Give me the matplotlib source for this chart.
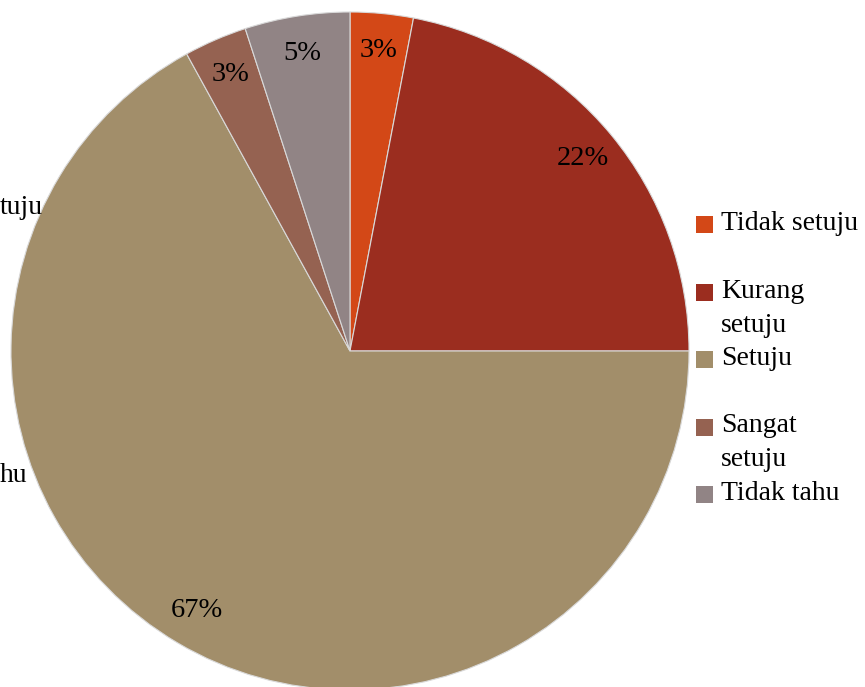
#! /usr/bin/env python3
"""
Pie chart of survey answers with a manual legend on the right
"""

import matplotlib
matplotlib.use("Agg")
import matplotlib.pyplot as plt
from matplotlib.patches import Rectangle

categories = ["Tidak setuju", "Kurang\nsetuju", "Setuju", "Sangat\nsetuju",
              "Tidak tahu"]
values = [3, 22, 67, 3, 5]
colours = ["#d34817", "#9b2d1f", "#a28e6a", "#956251", "#918485"]
# leftover labels of a neighbouring chart, cut off by the left edge
stray_labels = ["tuju", "hu"]


def main():
    plt.rcParams["font.family"] = ["Liberation Serif", "DejaVu Serif"]
    width, height = 865, 687
    fig = plt.figure(figsize=(width / 100, height / 100), dpi=100)
    ax = fig.add_axes([0, 0, 1, 1])
    wedges, texts, autotexts = ax.pie(
        values,
        colors=colours,
        startangle=90,
        counterclock=False,
        center=(350, height - 351),
        radius=339,
        autopct=lambda p: f"{p:.0f}%",
        pctdistance=0.89,
        wedgeprops={"edgecolor": "#d9d9d9", "linewidth": 0.8},
        textprops={"fontsize": 20.5, "color": "black"},
    )
    ax.set_xlim(0, width)
    ax.set_ylim(0, height)
    ax.set_aspect("equal")
    ax.axis("off")

    # legend drawn by hand so wrapped labels align on their first line
    for i, (label, colour) in enumerate(zip(categories, colours)):
        yc = height - (224.5 + 67.5 * i)
        ax.add_patch(Rectangle((696, yc - 8.5), 17, 17, facecolor=colour,
                               edgecolor="none"))
        for j, line in enumerate(label.split("\n")):
            ax.text(721, yc - 34 * j + 1, line, fontsize=20, va="center",
                    ha="left", color="black")

    ax.text(43, height - 207, stray_labels[0], fontsize=20, va="center",
            ha="right")
    ax.text(27, height - 475, stray_labels[1], fontsize=20, va="center",
            ha="right")

    fig.savefig("out.png", dpi=100)


if __name__ == "__main__":
    main()
